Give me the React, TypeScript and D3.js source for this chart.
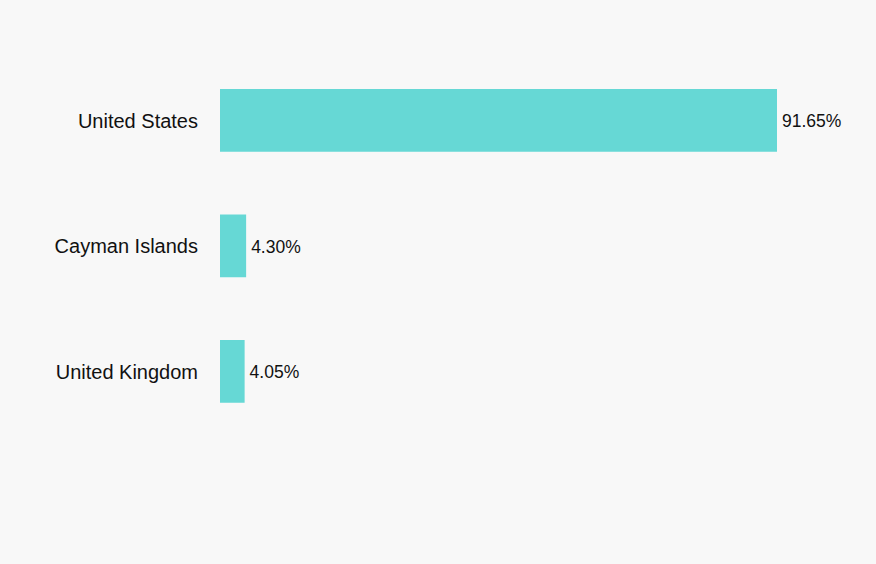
import React from "react";
import * as d3 from "d3";

const categories = ["United States", "Cayman Islands", "United Kingdom"];
const shares = [91.65, 4.3, 4.05];

const WIDTH = 876;
const HEIGHT = 564;

const App: React.FC = () => {
  const data = categories.map((c, i) => ({ name: c, value: shares[i] }));

  // scales
  const x = d3.scaleLinear().domain([0, 91.65]).range([220, 777]);
  const y = d3
    .scaleBand()
    .domain(categories)
    .range([26.25, 465.5])
    .padding(0.5);

  return (
    <div style={{ position: "fixed", left: 0, top: 0 }}>
      <svg width={WIDTH} height={HEIGHT} style={{ display: "block" }}>
        <rect width={WIDTH} height={HEIGHT} fill="#f8f8f8" />
        {data.map((d) => {
          const yc = (y(d.name) || 0) + y.bandwidth() / 2;
          return (
            <g key={d.name}>
              <rect
                x={x(0)}
                y={y(d.name)}
                width={x(d.value) - x(0)}
                height={y.bandwidth()}
                fill="#66d8d5"
              />
              <text
                x={198}
                y={yc}
                dy="0.38em"
                textAnchor="end"
                fontSize={20}
                fontFamily="'Liberation Sans', Arial, sans-serif"
                fill="#111"
              >
                {d.name}
              </text>
              <text
                x={x(d.value) + 5}
                y={yc}
                dy="0.38em"
                fontSize={17.5}
                fontFamily="'Liberation Sans', Arial, sans-serif"
                fill="#111"
              >
                {d.value.toFixed(2)}%
              </text>
            </g>
          );
        })}
      </svg>
    </div>
  );
};

export default App;
